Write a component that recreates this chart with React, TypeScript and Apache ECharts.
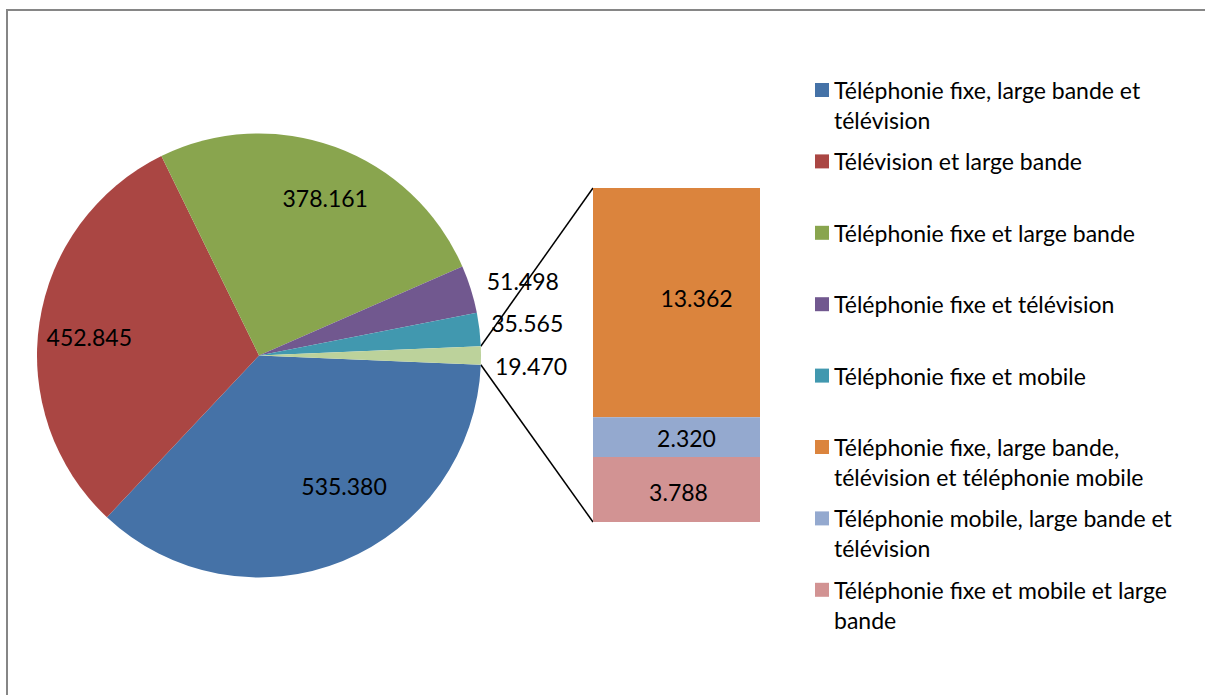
import React, { useEffect, useRef } from "react";
import * as echarts from "echarts";

// ---- Data ----
const pieNames = [
  "Téléphonie fixe, large bande et télévision",
  "Télévision et large bande",
  "Téléphonie fixe et large bande",
  "Téléphonie fixe et télévision",
  "Téléphonie fixe et mobile",
];
const pieValues = [535380, 452845, 378161, 51498, 35565];
const otherName = "Autres offres";

const barNames = [
  "Téléphonie fixe, large bande, télévision et téléphonie mobile",
  "Téléphonie mobile, large bande et télévision",
  "Téléphonie fixe et mobile et large bande",
];
const barValues = [13362, 2320, 3788];

// Legend labels as they wrap in the reference
const legendTexts = [
  "Téléphonie fixe, large bande et\ntélévision",
  "Télévision et large bande",
  "Téléphonie fixe et large bande",
  "Téléphonie fixe et télévision",
  "Téléphonie fixe et mobile",
  "Téléphonie fixe, large bande,\ntélévision et téléphonie mobile",
  "Téléphonie mobile, large bande et\ntélévision",
  "Téléphonie fixe et mobile et large\nbande",
];

// ---- Styles / layout ----
const pieColors = ["#4572A7", "#AA4643", "#89A54E", "#71588F", "#4198AF"];
const otherColor = "#BCD29B";
const barColors = ["#DB843D", "#94A9CF", "#D29393"];
const FONT = "Lato, 'Open Sans', sans-serif";
const FS = 23;

const PIE_CX = 259;
const PIE_CY = 355.5;
const PIE_R = 222;
const BAR_LEFT = 593;
const BAR_TOP = 188;
const BAR_W = 167;
const BAR_H = 334;

// label nudges (dx, dy) relative to the inside anchor of each slice
const pieLabelShift = [
  [42, 25],
  [-57, -2],
  [27, -50],
  [155, -40],
  [155, -19],
  [158, 10],
];
const barLabelShift = [
  [20, -5],
  [10, 1],
  [2, 2],
];

const LEGEND_LEFT = 815;
const LEGEND_FIRST = 90;
const LEGEND_STEP = 71.4;
const LINE_H = 30;

const fmt = (v: number) =>
  String(Math.round(v)).replace(/\B(?=(\d{3})+(?!\d))/g, ".");

export default function App() {
  const ref = useRef<HTMLDivElement>(null);

  useEffect(() => {
    if (!ref.current) return;
    const chart = echarts.init(ref.current, undefined, { renderer: "svg" });

    const otherValue = barValues.reduce((a, b) => a + b, 0);
    const total = pieValues.reduce((a, b) => a + b, 0) + otherValue;
    const halfDeg = (otherValue / total) * 180;
    const halfRad = (halfDeg * Math.PI) / 180;

    const pieData = pieNames
      .map((n, i) => ({
        name: n,
        value: pieValues[i],
        itemStyle: { color: pieColors[i] },
      }))
      .concat([
        { name: otherName, value: otherValue, itemStyle: { color: otherColor } },
      ]);

    const legendNames = [...pieNames, ...barNames];

    const legends = legendNames.map((name, i) => {
      const twoLine = legendTexts[i].includes("\n");
      const iconCenter = LEGEND_FIRST + LEGEND_STEP * i;
      // a leading empty line keeps the icon level with the first text line
      const text = twoLine ? "\n" + legendTexts[i] : legendTexts[i];
      return {
        data: [name],
        orient: "vertical",
        left: LEGEND_LEFT,
        top: iconCenter - (twoLine ? LINE_H * 1.5 : LINE_H / 2),
        padding: 0,
        itemGap: 0,
        itemWidth: 14,
        itemHeight: 14,
        icon: "rect",
        formatter: () => text,
        textStyle: {
          fontFamily: FONT,
          fontSize: FS,
          color: "#000",
          lineHeight: LINE_H,
        },
      };
    });

    const px = PIE_CX + PIE_R * Math.cos(halfRad);
    const dy = PIE_R * Math.sin(halfRad);

    chart.setOption({
      animation: false,
      backgroundColor: "#fff",
      legend: legends,
      grid: {
        left: BAR_LEFT,
        top: BAR_TOP,
        width: BAR_W,
        height: BAR_H,
        containLabel: false,
      },
      xAxis: {
        type: "category",
        data: ["Autres"],
        show: false,
      },
      yAxis: {
        type: "value",
        min: 0,
        max: otherValue,
        inverse: true,
        show: false,
      },
      graphic: [
        {
          type: "rect",
          z: -10,
          silent: true,
          shape: { x: 7, y: 10, width: 1230, height: 720 },
          style: { fill: "none", stroke: "#868686", lineWidth: 2 },
        },
        {
          type: "line",
          silent: true,
          shape: { x1: px, y1: PIE_CY - dy, x2: BAR_LEFT, y2: BAR_TOP },
          style: { stroke: "#000", lineWidth: 1.5 },
        },
        {
          type: "line",
          silent: true,
          shape: { x1: px, y1: PIE_CY + dy, x2: BAR_LEFT, y2: BAR_TOP + BAR_H },
          style: { stroke: "#000", lineWidth: 1.5 },
        },
      ],
      series: [
        {
          type: "pie",
          center: [PIE_CX, PIE_CY],
          radius: [0, PIE_R],
          startAngle: 360 - halfDeg,
          clockwise: true,
          avoidLabelOverlap: false,
          data: pieData,
          itemStyle: { borderWidth: 0 },
          label: {
            show: true,
            position: "inside",
            formatter: (p: any) => fmt(p.value),
            fontFamily: FONT,
            fontSize: FS,
            color: "#000",
          },
          labelLine: { show: false },
          labelLayout: (p: any) => ({
            dx: pieLabelShift[p.dataIndex][0],
            dy: pieLabelShift[p.dataIndex][1],
          }),
          emphasis: { disabled: true },
        },
        ...barNames.map((n, i) => ({
          type: "bar",
          name: n,
          stack: "other",
          data: [barValues[i]],
          barWidth: "100%",
          itemStyle: { color: barColors[i] },
          label: {
            show: true,
            position: "inside",
            formatter: (p: any) => fmt(p.value),
            fontFamily: FONT,
            fontSize: FS,
            color: "#000",
            offset: barLabelShift[i],
          },
          emphasis: { disabled: true },
        })),
      ],
    });

    return () => chart.dispose();
  }, []);

  return (
    <div
      ref={ref}
      style={{
        position: "absolute",
        left: 0,
        top: 0,
        width: 1205,
        height: 695,
        background: "#fff",
      }}
    />
  );
}
